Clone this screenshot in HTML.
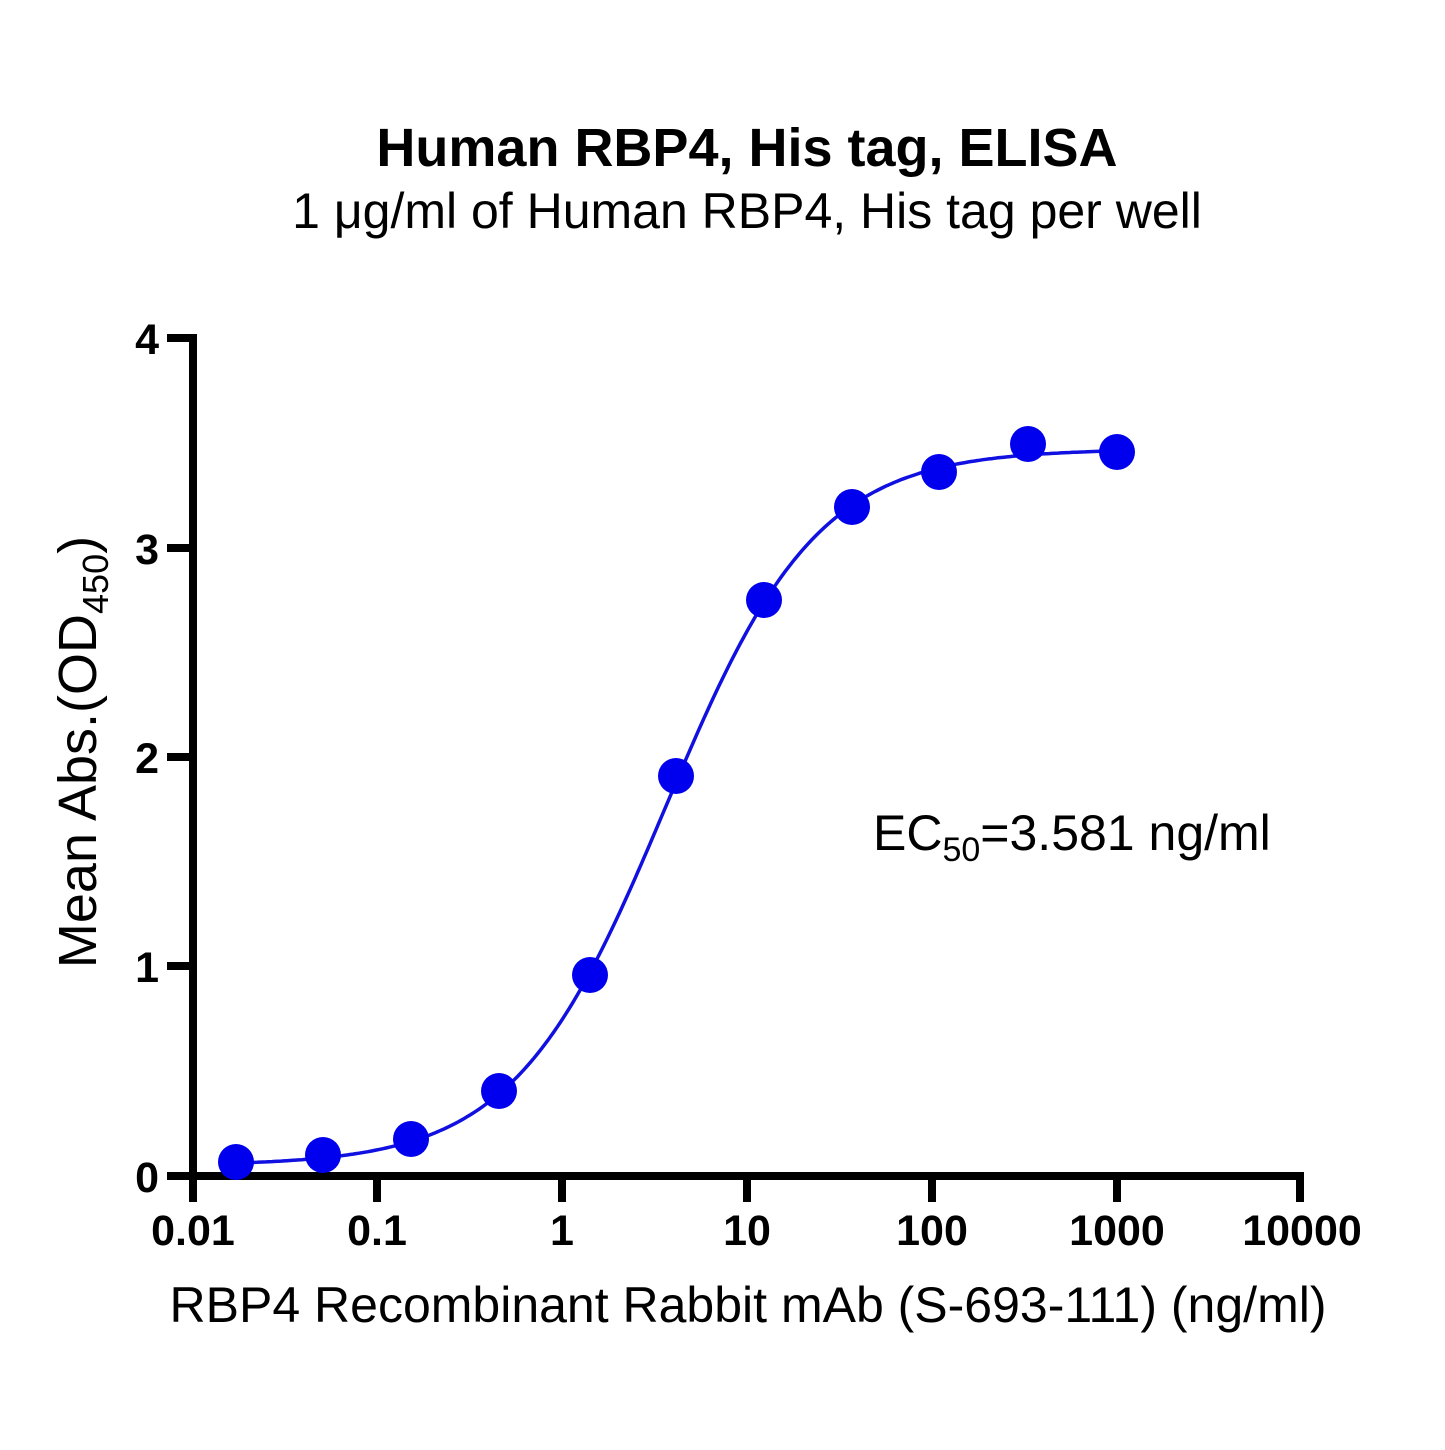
<!DOCTYPE html>
<html><head><style>
body{margin:0;background:#fff;}
svg text{font-family:"Liberation Sans",Arial,sans-serif;fill:#000;}
</style></head><body>
<svg id="s" width="1445" height="1445" viewBox="0 0 1445 1445" xmlns="http://www.w3.org/2000/svg">
<text x="747" y="166" font-size="54" font-weight="bold" text-anchor="middle">Human RBP4, His tag, ELISA</text>
<text x="747" y="228" font-size="50" text-anchor="middle">1 μg/ml of Human RBP4, His tag per well</text>
<g stroke="#000" stroke-width="8" fill="none">
<line x1="193" y1="334" x2="193" y2="1180"/>
<line x1="189" y1="1176" x2="1304" y2="1176"/>
<line x1="167" y1="338" x2="193" y2="338"/>
<line x1="167" y1="548" x2="193" y2="548"/>
<line x1="167" y1="757" x2="193" y2="757"/>
<line x1="167" y1="966" x2="193" y2="966"/>
<line x1="167" y1="1176" x2="193" y2="1176"/>
<line x1="193" y1="1176" x2="193" y2="1202"/>
<line x1="377" y1="1176" x2="377" y2="1202"/>
<line x1="562" y1="1176" x2="562" y2="1202"/>
<line x1="747" y1="1176" x2="747" y2="1202"/>
<line x1="932" y1="1176" x2="932" y2="1202"/>
<line x1="1117" y1="1176" x2="1117" y2="1202"/>
<line x1="1300" y1="1176" x2="1300" y2="1202"/>
</g>
<g font-size="43" font-weight="bold" text-anchor="end">
<text x="159" y="354">4</text><text x="159" y="564">3</text><text x="159" y="773">2</text><text x="159" y="982">1</text><text x="159" y="1192">0</text>
</g>
<g font-size="43" font-weight="bold" text-anchor="middle">
<text x="193" y="1245">0.01</text><text x="377" y="1245">0.1</text><text x="562" y="1245">1</text><text x="747" y="1245">10</text><text x="932" y="1245">100</text><text x="1117" y="1245">1000</text><text x="1302" y="1245">10000</text>
</g>
<text x="748" y="1322" font-size="50" text-anchor="middle">RBP4 Recombinant Rabbit mAb (S-693-111) (ng/ml)</text>
<text transform="translate(96,752) rotate(-90)" font-size="54" text-anchor="middle">Mean Abs.(OD<tspan font-size="36" dy="12">450</tspan><tspan dy="-12">)</tspan></text>
<text x="873" y="850" font-size="50">EC<tspan font-size="34" dy="11">50</tspan><tspan dy="-11">=3.581 ng/ml</tspan></text>
<path id="c" fill="none" stroke="#1010e0" stroke-width="3.5"/>
<g fill="#0000ee">
<circle cx="236" cy="1162" r="18"/><circle cx="323" cy="1155" r="18"/><circle cx="411" cy="1139" r="18"/><circle cx="499" cy="1091" r="18"/><circle cx="590" cy="975" r="18"/><circle cx="676" cy="776" r="18"/><circle cx="764" cy="600" r="18"/><circle cx="852" cy="507" r="18"/><circle cx="939" cy="472" r="18"/><circle cx="1028" cy="444" r="18"/><circle cx="1117" cy="452" r="18"/>
</g>
</svg>
<script>
var d="";for(var px=236;px<=1117;px+=3){var lx=(px-193)/185-2;var x=Math.pow(10,lx);var y=0.05+3.42/(1+Math.pow(3.581/x,1.06));var py=1176-y*209.5;d+=(d?"L":"M")+px+","+py.toFixed(1);}
document.getElementById("c").setAttribute("d",d);
</script>
</body></html>
